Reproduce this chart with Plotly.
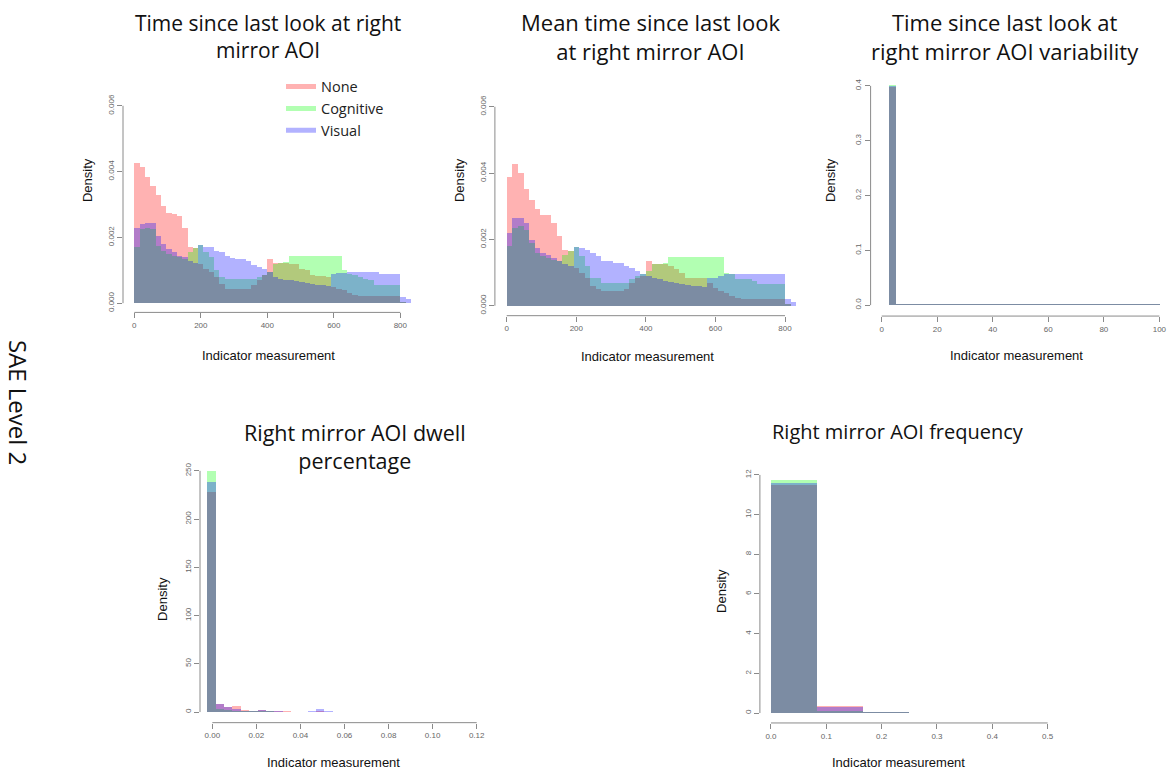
import plotly.graph_objects as go

W, H = 1173, 773

# ---------------- DATA ----------------
series_names = ["None", "Cognitive", "Visual"]

# Panel 1: Time since last look at right mirror AOI (bin width 16, from 0)
p1_bin_start = 0
p1_bin_width = 16
p1_none = [0.00425, 0.00415, 0.00385, 0.00355, 0.00330, 0.00295, 0.00275, 0.00270, 0.00265, 0.00230,
           0.00170, 0.00168, 0.00120, 0.00105, 0.00095, 0.00080, 0.00060, 0.00042, 0.00042, 0.00042,
           0.00042, 0.00042, 0.00055, 0.00070, 0.00085, 0.00135, 0.00122, 0.00122, 0.00122, 0.00120,
           0.00120, 0.00105, 0.00100, 0.00085, 0.00082, 0.00082, 0.00080, 0.00050, 0.00042, 0.00040,
           0.00030, 0.00025, 0.00022, 0.00022, 0.00022, 0.00022, 0.00022, 0.00022, 0.00022, 0.00022,
           0.00005, 0.00000]
p1_cognitive = [0.00170, 0.00225, 0.00230, 0.00225, 0.00175, 0.00160, 0.00150, 0.00145, 0.00140, 0.00135,
                0.00155, 0.00168, 0.00176, 0.00155, 0.00140, 0.00100, 0.00080, 0.00075, 0.00075, 0.00075,
                0.00075, 0.00075, 0.00075, 0.00080, 0.00085, 0.00095, 0.00120, 0.00122, 0.00125, 0.00145,
                0.00145, 0.00145, 0.00145, 0.00145, 0.00145, 0.00145, 0.00145, 0.00145, 0.00145, 0.00100,
                0.00090, 0.00085, 0.00080, 0.00075, 0.00070, 0.00057, 0.00057, 0.00057, 0.00057, 0.00057,
                0.00005, 0.00000]
p1_visual = [0.00230, 0.00240, 0.00245, 0.00245, 0.00205, 0.00180, 0.00165, 0.00155, 0.00145, 0.00140,
             0.00130, 0.00122, 0.00176, 0.00172, 0.00172, 0.00160, 0.00155, 0.00145, 0.00138, 0.00135,
             0.00135, 0.00130, 0.00115, 0.00110, 0.00105, 0.00095, 0.00080, 0.00075, 0.00072, 0.00070,
             0.00068, 0.00065, 0.00062, 0.00058, 0.00055, 0.00055, 0.00052, 0.00090, 0.00092, 0.00092,
             0.00094, 0.00094, 0.00094, 0.00094, 0.00094, 0.00094, 0.00090, 0.00090, 0.00090, 0.00090,
             0.00018, 0.00012]

# Panel 2: Mean time since last look at right mirror AOI (bin width 16, from 0)
p2_bin_start = 0
p2_bin_width = 16
p2_none = [0.00390, 0.00428, 0.00400, 0.00352, 0.00320, 0.00292, 0.00275, 0.00275, 0.00250, 0.00210,
           0.00170, 0.00167, 0.00115, 0.00100, 0.00085, 0.00060, 0.00050, 0.00045, 0.00045, 0.00045,
           0.00045, 0.00050, 0.00070, 0.00085, 0.00090, 0.00135, 0.00125, 0.00125, 0.00125, 0.00120,
           0.00110, 0.00100, 0.00085, 0.00085, 0.00085, 0.00085, 0.00070, 0.00055, 0.00045, 0.00040,
           0.00030, 0.00025, 0.00022, 0.00020, 0.00020, 0.00020, 0.00020, 0.00020, 0.00020, 0.00020,
           0.00005, 0.00000]
p2_cognitive = [0.00180, 0.00235, 0.00240, 0.00230, 0.00190, 0.00160, 0.00150, 0.00145, 0.00140, 0.00135,
                0.00155, 0.00167, 0.00177, 0.00150, 0.00120, 0.00085, 0.00085, 0.00070, 0.00070, 0.00070,
                0.00070, 0.00070, 0.00080, 0.00090, 0.00095, 0.00105, 0.00125, 0.00125, 0.00130, 0.00147,
                0.00147, 0.00147, 0.00147, 0.00147, 0.00147, 0.00147, 0.00147, 0.00147, 0.00147, 0.00100,
                0.00095, 0.00080, 0.00080, 0.00080, 0.00075, 0.00065, 0.00065, 0.00065, 0.00065, 0.00065,
                0.00005, 0.00000]
p2_visual = [0.00220, 0.00265, 0.00265, 0.00250, 0.00200, 0.00175, 0.00160, 0.00155, 0.00145, 0.00135,
             0.00125, 0.00120, 0.00177, 0.00175, 0.00170, 0.00160, 0.00150, 0.00135, 0.00135, 0.00130,
             0.00130, 0.00120, 0.00115, 0.00105, 0.00095, 0.00090, 0.00085, 0.00080, 0.00075, 0.00072,
             0.00068, 0.00065, 0.00062, 0.00060, 0.00060, 0.00058, 0.00085, 0.00085, 0.00090, 0.00095,
             0.00095, 0.00095, 0.00095, 0.00095, 0.00095, 0.00095, 0.00095, 0.00095, 0.00095, 0.00095,
             0.00020, 0.00012]

# Panel 3: Time since last look at right mirror AOI variability (bin width 2.5, from 0)
p3_bin_start = 0
p3_bin_width = 2.5
p3_none = [0.0, 0.398] + [0.0012] * 38
p3_cognitive = [0.0, 0.401] + [0.0010] * 38
p3_visual = [0.0, 0.399] + [0.0011] * 38

# Panel 4: Right mirror AOI dwell percentage (bin width 0.0038)
p4_bin_start = -0.0023
p4_bin_width = 0.0038
p4_none = [228, 8.5, 5.0, 6.5, 1.5, 1.2, 1.5, 1.0, 0.6, 0.4, 0.3, 0.3, 0.3, 0.5, 0.3, 0.2, 0.2, 0.1]
p4_cognitive = [250, 2.5, 1.5, 1.0, 0.8, 0.6, 0.8, 0.5, 0.3, 0.2, 0.2, 0.2, 0.2, 0.3, 0.2, 0.2, 0.1, 0.1]
p4_visual = [238, 8.5, 5.0, 3.0, 1.2, 1.0, 2.4, 1.0, 0.5, 0.3, 0.3, 0.3, 0.5, 3.0, 0.8, 0.3, 0.2, 0.1]

# Panel 5: Right mirror AOI frequency (bin width 1/12)
p5_bin_start = 0
p5_bin_width = 1 / 12
p5_none = [11.50, 0.38, 0.07, 0.02, 0.01]
p5_cognitive = [11.75, 0.10, 0.05, 0.02, 0.01]
p5_visual = [11.60, 0.28, 0.06, 0.02, 0.01]

# Tick values / labels
p1_xticks = [0, 200, 400, 600, 800]
p1_yticks = [0, 0.002, 0.004, 0.006]
p1_ylabels = ["0.000", "0.002", "0.004", "0.006"]
p2_xticks = [0, 200, 400, 600, 800]
p2_yticks = [0, 0.002, 0.004, 0.006]
p2_ylabels = ["0.000", "0.002", "0.004", "0.006"]
p3_xticks = [0, 20, 40, 60, 80, 100]
p3_yticks = [0, 0.1, 0.2, 0.3, 0.4]
p3_ylabels = ["0.0", "0.1", "0.2", "0.3", "0.4"]
p4_xticks = [0, 0.02, 0.04, 0.06, 0.08, 0.10, 0.12]
p4_xlabels = ["0.00", "0.02", "0.04", "0.06", "0.08", "0.10", "0.12"]
p4_yticks = [0, 50, 100, 150, 200, 250]
p5_xticks = [0, 0.1, 0.2, 0.3, 0.4, 0.5]
p5_xlabels = ["0.0", "0.1", "0.2", "0.3", "0.4", "0.5"]
p5_yticks = [0, 2, 4, 6, 8, 10, 12]

titles = [
    ["Time since last look at right", "mirror AOI"],
    ["Mean time since last look", "at right mirror AOI"],
    ["Time since last look at", "right mirror AOI variability"],
    ["Right mirror AOI dwell", "percentage"],
    ["Right mirror AOI frequency"],
]
row_label = "SAE Level 2"
x_title = "Indicator measurement"
y_title = "Density"

# ---------------- LAYOUT / STYLE ----------------
colors = ["rgba(255,0,0,0.3)", "rgba(0,255,0,0.3)", "rgba(0,0,255,0.3)"]
TITLE_FONT = "Open Sans"
AX_FONT = "Liberation Sans, Arial"

panels = [
    dict(data=(p1_none, p1_cognitive, p1_visual), start=p1_bin_start, width=p1_bin_width,
         box=(123.0, 423.6, 94.4, 310.0), xr=[-34, 870], yr=[-0.00028, 0.00624],
         xt=p1_xticks, xl=[str(v) for v in p1_xticks], yt=p1_yticks, yl=p1_ylabels,
         title_xy=(268, 32.5), tsize=21, xt_pos=(268, 353), yt_pos=(87, 177)),
    dict(data=(p2_none, p2_cognitive, p2_visual), start=p2_bin_start, width=p2_bin_width,
         box=(494.9, 805.9, 95.3, 313.3), xr=[-34, 860], yr=[-0.0003, 0.00624],
         xt=p2_xticks, xl=[str(v) for v in p2_xticks], yt=p2_yticks, yl=p2_ylabels,
         title_xy=(650, 32.5), tsize=22, xt_pos=(647, 354), yt_pos=(459, 177)),
    dict(data=(p3_none, p3_cognitive, p3_visual), start=p3_bin_start, width=p3_bin_width,
         box=(870.6, 1170.5, 73.5, 313.7), xr=[-4, 104], yr=[-0.02, 0.416],
         xt=p3_xticks, xl=[str(v) for v in p3_xticks], yt=p3_yticks, yl=p3_ylabels,
         title_xy=(1005, 32.5), tsize=22, xt_pos=(1016, 353), yt_pos=(830, 177)),
    dict(data=(p4_none, p4_cognitive, p4_visual), start=p4_bin_start, width=p4_bin_width,
         box=(200.0, 487.7, 459.6, 722.4), xr=[-0.0056, 0.125], yr=[-11, 260],
         xt=p4_xticks, xl=p4_xlabels, yt=p4_yticks, yl=[str(v) for v in p4_yticks],
         title_xy=(355, 444.5), tsize=21.5, xt_pos=(333, 762), yt_pos=(163, 598)),
    dict(data=(p5_none, p5_cognitive, p5_visual), start=p5_bin_start, width=p5_bin_width,
         box=(759.9, 1058.7, 463.4, 722.7), xr=[-0.02, 0.52], yr=[-0.5, 12.5],
         xt=p5_xticks, xl=p5_xlabels, yt=p5_yticks, yl=[str(v) for v in p5_yticks],
         title_xy=(898, 430), tsize=20, xt_pos=(898, 762), yt_pos=(722, 590)),
]

fig = go.Figure()
layout = dict(
    width=W, height=H,
    margin=dict(l=0, r=0, t=0, b=0),
    paper_bgcolor="white", plot_bgcolor="white",
    barmode="overlay", bargap=0,
    showlegend=True,
    legend=dict(x=281 / W, y=1 - 67 / H, xanchor="left", yanchor="top",
                bgcolor="rgba(0,0,0,0)", font=dict(family=TITLE_FONT, size=14.5, color="#222"),
                tracegroupgap=0, itemwidth=30),
)
annotations = []
shapes = []

for i, p in enumerate(panels):
    k = "" if i == 0 else str(i + 1)
    xa, ya = "x" + k, "y" + k
    n = len(p["data"][0])
    centers = [p["start"] + p["width"] * (j + 0.5) for j in range(n)]
    for s, (vals, col, name) in enumerate(zip(p["data"], colors, series_names)):
        fig.add_trace(go.Bar(x=centers, y=vals, width=p["width"], xaxis=xa, yaxis=ya,
                             marker=dict(color=col, line=dict(width=0)), name=name,
                             showlegend=False, hoverinfo="skip"))
    x0, x1, ytop, ybot = p["box"]
    common = dict(showgrid=False, zeroline=False, showline=False, ticks="outside",
                  ticklen=5, tickcolor="#8a8a8a", tickwidth=1,
                  tickfont=dict(family=AX_FONT, size=8, color="#666"))
    layout["xaxis" + k] = dict(domain=[x0 / W, x1 / W], range=p["xr"], anchor=ya,
                               tickvals=p["xt"], ticktext=p["xl"], **common)
    layout["yaxis" + k] = dict(domain=[1 - ybot / H, 1 - ytop / H], range=p["yr"], anchor=xa,
                               tickvals=p["yt"], ticktext=p["yl"], tickangle=-90, **common)
    # R-style axis lines spanning first to last tick
    shapes.append(dict(type="line", xref=xa, yref=ya + " domain", x0=p["xt"][0], x1=p["xt"][-1],
                       y0=0, y1=0, line=dict(color="#8a8a8a", width=1)))
    shapes.append(dict(type="line", xref=xa + " domain", yref=ya, x0=0, x1=0,
                       y0=p["yt"][0], y1=p["yt"][-1], line=dict(color="#8a8a8a", width=1)))
    # titles (single text block, lines joined with <br>)
    tx, ty = p["title_xy"]
    annotations.append(dict(text="<br>".join(titles[i]), x=tx / W, y=1 - ty / H,
                            xref="paper", yref="paper", showarrow=False,
                            xanchor="center", yanchor="middle", align="center",
                            font=dict(family=TITLE_FONT, size=p["tsize"], color="#111")))
    ax_, ay_ = p["xt_pos"]
    annotations.append(dict(text=x_title, x=ax_ / W, y=1 - ay_ / H, xref="paper", yref="paper",
                            showarrow=False, xanchor="center", yanchor="middle",
                            font=dict(family=AX_FONT, size=13, color="#111")))
    bx_, by_ = p["yt_pos"]
    annotations.append(dict(text=y_title, x=bx_ / W, y=1 - by_ / H, xref="paper", yref="paper",
                            showarrow=False, xanchor="center", yanchor="middle", textangle=-90,
                            font=dict(family=AX_FONT, size=13, color="#111")))

annotations.append(dict(text=row_label, x=18 / W, y=1 - 400 / H, xref="paper", yref="paper",
                        showarrow=False, xanchor="center", yanchor="middle", textangle=90,
                        font=dict(family=TITLE_FONT, size=24, color="#111")))

# legend entries
for col, name in zip(colors, series_names):
    fig.add_trace(go.Scatter(x=[None], y=[None], mode="lines", name=name,
                             line=dict(color=col, width=5), xaxis="x", yaxis="y"))

layout["annotations"] = annotations
layout["shapes"] = shapes
fig.update_layout(**layout)
fig.write_html("out.html")
